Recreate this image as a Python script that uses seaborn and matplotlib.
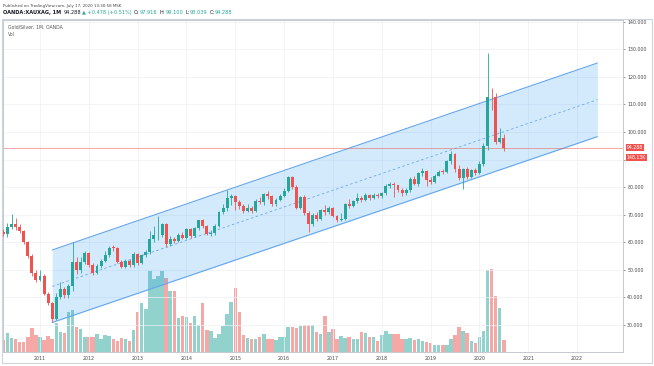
import numpy as np
import pandas as pd
import seaborn as sns
import matplotlib.pyplot as plt
import matplotlib.transforms as mtransforms
from matplotlib.patches import Rectangle

sns.set_style('white')
plt.rcParams['font.family'] = ['DejaVu Sans']

# monthly Gold/Silver (OANDA:XAUXAG), Apr 2010 .. Jul 2020
months = pd.date_range('2010-04-01', '2020-07-01', freq='MS')
first_open = 63.6
closes = [63.1, 65.6, 66.5, 65.6, 63.9, 60.0, 55.0, 48.8, 46.4,
          47.8, 41.4, 37.9, 32.2, 40.0, 43.0, 40.7, 44.0, 53.0, 49.8, 53.0, 56.0,
          51.8, 49.0, 51.3, 53.3, 55.3, 58.0, 57.9, 53.0, 51.2, 53.2, 51.6, 55.8,
          52.5, 55.2, 56.4, 61.1, 62.5, 62.6, 66.6, 59.4, 61.2, 60.4, 62.8, 61.6,
          64.7, 62.3, 65.2, 67.9, 65.8, 63.0, 63.2, 66.0, 70.8, 72.3, 76.0, 76.9,
          74.6, 73.1, 71.3, 72.6, 71.3, 75.1, 74.5, 77.6, 76.9, 73.7, 75.5, 76.9,
          78.7, 83.6, 80.1, 72.6, 76.4, 70.7, 66.6, 70.0, 68.5, 71.7, 71.0, 72.4,
          69.6, 67.9, 68.6, 73.7, 73.3, 74.8, 76.0, 75.5, 77.1, 76.0, 77.3, 76.6,
          77.7, 80.4, 81.3, 80.7, 79.1, 77.8, 78.9, 82.8, 81.1, 85.0, 86.0, 82.7,
          82.0, 84.2, 85.6, 85.5, 89.4, 92.1, 86.7, 83.3, 86.6, 83.6, 86.1, 85.2,
          88.3, 94.9, 112.7, 112.5, 96.3, 97.916, 94.288]
highs = [64.8, 67.0, 70.4, 68.8, 66.8, 64.5, 60.6, 55.6, 50.0,
         50.0, 48.4, 41.9, 38.2, 41.5, 45.5, 43.6, 45.0, 60.0, 54.6, 54.5, 57.0,
         56.5, 52.3, 52.0, 54.0, 56.8, 58.6, 59.0, 58.2, 53.5, 53.8, 54.0, 56.3,
         56.2, 55.8, 57.3, 64.0, 66.0, 69.5, 67.0, 66.9, 62.3, 62.0, 63.3, 63.8,
         65.2, 65.0, 65.6, 68.2, 68.4, 66.2, 64.5, 66.5, 71.2, 74.0, 79.0, 77.6,
         77.2, 75.5, 74.0, 73.8, 73.2, 75.8, 76.5, 78.0, 78.5, 77.3, 76.2, 77.4,
         79.5, 83.9, 83.9, 80.6, 76.9, 77.0, 71.2, 70.5, 70.8, 72.2, 73.5, 73.2,
         72.8, 70.0, 70.6, 74.2, 75.7, 75.4, 77.7, 76.8, 77.8, 77.6, 77.9, 78.0,
         78.4, 81.0, 81.9, 81.8, 80.9, 79.6, 79.8, 83.5, 83.9, 85.5, 86.8, 86.3,
         83.6, 84.8, 86.3, 86.4, 90.0, 93.2, 92.5, 88.0, 87.0, 87.2, 86.7, 86.8,
         89.5, 96.0, 128.7, 116.0, 114.0, 101.4, 99.1]
lows = [62.3, 62.0, 64.9, 64.5, 63.2, 59.5, 54.3, 47.8, 45.5,
        45.8, 41.0, 37.2, 31.0, 31.9, 39.5, 39.9, 39.8, 42.5, 48.5, 49.0, 52.2,
        50.9, 48.2, 48.5, 50.8, 52.8, 54.6, 57.0, 52.6, 50.5, 50.8, 51.0, 51.2,
        51.8, 52.0, 54.7, 55.8, 60.0, 60.8, 62.0, 58.2, 58.8, 59.6, 60.0, 61.0,
        61.2, 61.5, 61.8, 64.6, 65.0, 62.5, 62.4, 62.8, 65.5, 70.2, 71.5, 73.5,
        71.8, 72.2, 70.5, 70.8, 70.5, 70.9, 73.8, 73.5, 75.8, 73.0, 73.2, 75.0,
        76.4, 78.2, 79.3, 72.0, 72.2, 70.0, 63.6, 66.0, 67.8, 68.0, 69.8, 70.4,
        69.0, 67.4, 67.6, 68.0, 72.6, 72.8, 74.2, 74.6, 75.0, 75.4, 75.6, 76.0,
        75.9, 77.2, 79.8, 76.3, 78.3, 76.7, 77.2, 78.4, 80.6, 80.5, 84.2, 80.5,
        81.2, 81.6, 83.9, 84.8, 85.0, 88.4, 85.5, 82.4, 79.2, 82.9, 83.2, 84.3,
        84.9, 87.8, 93.5, 108.0, 95.5, 96.0, 93.039]
# volume in thousands
volume_k = [148, 234, 172, 160, 123, 123, 185, 295, 209,
            185, 148, 197, 160, 357, 246, 234, 492, 517, 308, 283, 185,
            185, 185, 221, 160, 209, 197, 160, 136, 172, 160, 136, 271,
            492, 603, 529, 996, 898, 935, 996, 910, 750, 750, 418, 443,
            431, 357, 443, 332, 603, 271, 258, 172, 221, 320, 467, 615,
            787, 492, 209, 172, 160, 160, 185, 221, 160, 160, 148, 185,
            185, 308, 308, 295, 320, 332, 332, 332, 246, 221, 443, 246,
            283, 160, 197, 172, 185, 160, 160, 246, 234, 185, 185, 136,
            209, 258, 221, 221, 221, 160, 160, 172, 148, 160, 136, 123,
            111, 86, 86, 86, 86, 160, 209, 308, 258, 234, 136, 111,
            185, 258, 1009, 1021, 689, 541, 148.13]

# regression channel drawn from Apr 2011 to mid 2022 (month index)
chan_pos = [12, 146]
chan_upper = [57.2, 125.0]
chan_mid = [44.0, 111.7]
chan_lower = [30.9, 98.3]

price_ticks = list(range(30, 150, 10))
year_labels = [str(y) for y in range(2011, 2023)]
last_price = 94.288

df = pd.DataFrame({'date': months, 'close': closes, 'high': highs,
                   'low': lows, 'volume': volume_k})
df['open'] = [first_open] + closes[:-1]
df['pos'] = np.arange(len(df))
df['dir'] = np.where(df['close'] >= df['open'], 'up', 'down')

UP, DOWN = '#26a69a', '#ef5350'
W, H = 654, 366


def fx(px):
    return px / W


def fy(py):
    return 1 - py / H


fig = plt.figure(figsize=(6.54, 3.66), dpi=100)
rect = [fx(3), fy(352), fx(623) - fx(3), fy(20) - fy(352)]
ax_vol = fig.add_axes(rect)
ax = fig.add_axes(rect, sharex=ax_vol)
ax.patch.set_visible(False)

# volume
sns.barplot(data=df, x='pos', y='volume', hue='dir', palette={'up': UP, 'down': DOWN},
            native_scale=True, dodge=False, width=0.86, errorbar=None, legend=False,
            saturation=1, alpha=0.5, linewidth=0, ax=ax_vol)
ax_vol.set_ylim(0, 4098)
ax_vol.axis('off')

# channel
ax.fill_between(chan_pos, chan_lower, chan_upper, color='#2196f3', alpha=0.2, lw=0, zorder=1)
ax.plot(chan_pos, chan_upper, color='#64a5ee', lw=0.8, zorder=2)
ax.plot(chan_pos, chan_lower, color='#64a5ee', lw=0.8, zorder=2)
ax.plot(chan_pos, chan_mid, color='#6fa6ea', lw=0.6, ls=(0, (3, 3)), zorder=2)

ax.axhline(last_price, color=DOWN, lw=0.5, alpha=0.7, zorder=2)

# candles
cols = np.where(df['dir'] == 'up', UP, DOWN)
body_bottom = np.minimum(df['open'], df['close'])
body_h = np.maximum((df['close'] - df['open']).abs(), 0.2)
ax.vlines(df['pos'], df['low'], df['high'], colors=cols, lw=0.6, zorder=3)
ax.bar(df['pos'], body_h, bottom=body_bottom, width=0.72, color=cols, lw=0, zorder=4)

ax.set_xlim(-0.1, 152.3)
ax.set_ylim(20.2, 140.6)
ax.set_xticks([9 + 12 * k for k in range(len(year_labels))])
ax.set_xticklabels(year_labels)
ax.yaxis.tick_right()
ax.set_yticks(price_ticks)
# the 90.000 label sits under the volume tag on the price scale
ax.set_yticklabels(['' if v == 90 else f'{v:.3f}' for v in price_ticks])
ax.tick_params(axis='both', labelsize=3.4, colors='#4a4a4a', length=1.5, width=0.4, pad=1.5)
ax.grid(True, color='#edf0f5', lw=0.5)
ax.set_axisbelow(True)
for s in ax.spines.values():
    s.set_color('#c5c9d2')
    s.set_linewidth(0.7)

# last price / volume tags on the price scale
tr = mtransforms.blended_transform_factory(ax.transAxes, ax.transData)
ax.text(1.006, last_price, '94.288', transform=tr, va='center', ha='left', fontsize=3.3,
        color='white', bbox=dict(boxstyle='square,pad=0.25', fc=DOWN, ec='none'))
ax.text(1.006, last_price - 3.6, '148.13K', transform=tr, va='center', ha='left', fontsize=3.3,
        color='white', bbox=dict(boxstyle='square,pad=0.25', fc=DOWN, ec='none'))

# frame and texts
fig.add_artist(Rectangle((fx(2), fy(363)), fx(652) - fx(2), fy(19) - fy(363),
                         transform=fig.transFigure, fill=False, ec='#cfd3dc', lw=0.8))
fig.text(fx(3), fy(5.5), 'Published on TradingView.com, July 17, 2020 13:30:58 MSK',
         fontsize=2.9, color='#444444', va='center')
fig.text(fx(8), fy(27), 'Gold/Silver, 1M, OANDA', fontsize=3.3, color='#555555', va='center')
fig.text(fx(8), fy(34), 'Vol', fontsize=3.3, color='#555555', va='center')

header_parts = [('OANDA:XAUXAG, 1M', '#131722', 'bold', 2),
                ('94.288', '#131722', 'normal', 1.5),
                ('\u25b2 +0.478 (+0.51%)', UP, 'normal', 2),
                ('O:', '#131722', 'normal', 0.5), ('97.916', UP, 'normal', 2),
                ('H:', '#131722', 'normal', 0.5), ('99.100', UP, 'normal', 2),
                ('L:', '#131722', 'normal', 0.5), ('93.039', UP, 'normal', 2),
                ('C:', '#131722', 'normal', 0.5), ('94.288', UP, 'normal', 0)]
renderer = fig.canvas.get_renderer()
x = 3
for txt, color, weight, gap in header_parts:
    t = fig.text(fx(x), fy(12.5), txt, fontsize=3.6, color=color, weight=weight, va='center')
    x += t.get_window_extent(renderer).width + gap

fig.savefig('out.png', dpi=100)
